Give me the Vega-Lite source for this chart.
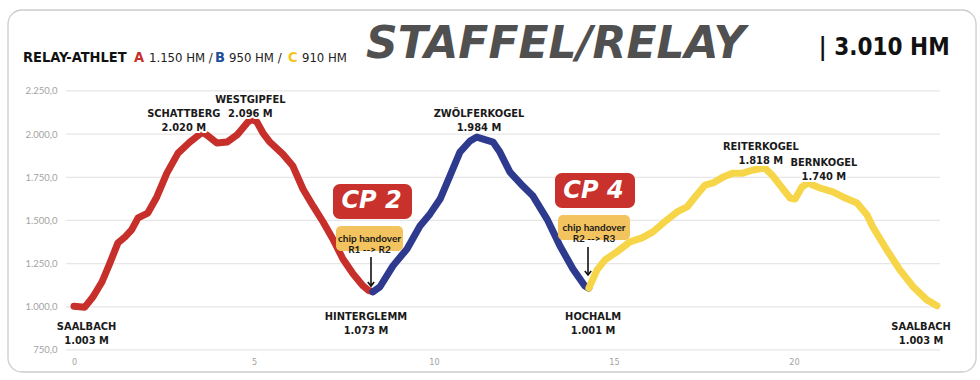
{
  "$schema": "https://vega.github.io/schema/vega-lite/v6.json",
  "width": 883,
  "height": 345,
  "autosize": {"type": "none"},
  "padding": {"left": 62, "top": 10, "right": 35, "bottom": 25},
  "background": "white",
  "config": {
    "view": {"stroke": null},
    "locale": {"number": {"decimal": ",", "thousands": ".", "grouping": [3], "currency": ["", " €"]}}
  },
  "datasets": {
    "grid": [{"elev": 750}, {"elev": 1000}, {"elev": 1250}, {"elev": 1500}, {"elev": 1750}, {"elev": 2000}, {"elev": 2250}],
    "one": [{}],
    "profile": [
      {"seg": "A", "km": 0.0, "elev": 1003}, {"seg": "A", "km": 0.3, "elev": 998}, {"seg": "A", "km": 0.53, "elev": 1058},
      {"seg": "A", "km": 0.78, "elev": 1145}, {"seg": "A", "km": 1.0, "elev": 1254}, {"seg": "A", "km": 1.22, "elev": 1370},
      {"seg": "A", "km": 1.42, "elev": 1405}, {"seg": "A", "km": 1.6, "elev": 1445}, {"seg": "A", "km": 1.78, "elev": 1515},
      {"seg": "A", "km": 2.05, "elev": 1543}, {"seg": "A", "km": 2.3, "elev": 1636}, {"seg": "A", "km": 2.58, "elev": 1774},
      {"seg": "A", "km": 2.89, "elev": 1890}, {"seg": "A", "km": 3.22, "elev": 1954}, {"seg": "A", "km": 3.56, "elev": 2010},
      {"seg": "A", "km": 3.69, "elev": 1995}, {"seg": "A", "km": 3.97, "elev": 1949}, {"seg": "A", "km": 4.25, "elev": 1954},
      {"seg": "A", "km": 4.53, "elev": 1995}, {"seg": "A", "km": 4.83, "elev": 2070}, {"seg": "A", "km": 4.95, "elev": 2085},
      {"seg": "A", "km": 5.08, "elev": 2070}, {"seg": "A", "km": 5.25, "elev": 2006}, {"seg": "A", "km": 5.44, "elev": 1954},
      {"seg": "A", "km": 5.8, "elev": 1884}, {"seg": "A", "km": 6.08, "elev": 1815}, {"seg": "A", "km": 6.36, "elev": 1682},
      {"seg": "A", "km": 6.64, "elev": 1584}, {"seg": "A", "km": 6.92, "elev": 1491}, {"seg": "A", "km": 7.19, "elev": 1393},
      {"seg": "A", "km": 7.47, "elev": 1277}, {"seg": "A", "km": 7.75, "elev": 1191}, {"seg": "A", "km": 8.03, "elev": 1121},
      {"seg": "A", "km": 8.18, "elev": 1095}, {"seg": "A", "km": 8.3, "elev": 1087},
      {"seg": "B", "km": 8.3, "elev": 1087}, {"seg": "B", "km": 8.5, "elev": 1116}, {"seg": "B", "km": 8.86, "elev": 1237},
      {"seg": "B", "km": 9.25, "elev": 1335}, {"seg": "B", "km": 9.61, "elev": 1468}, {"seg": "B", "km": 9.89, "elev": 1538},
      {"seg": "B", "km": 10.17, "elev": 1624}, {"seg": "B", "km": 10.44, "elev": 1757}, {"seg": "B", "km": 10.72, "elev": 1896},
      {"seg": "B", "km": 11.0, "elev": 1960}, {"seg": "B", "km": 11.19, "elev": 1983}, {"seg": "B", "km": 11.64, "elev": 1954},
      {"seg": "B", "km": 11.83, "elev": 1896}, {"seg": "B", "km": 12.11, "elev": 1780}, {"seg": "B", "km": 12.47, "elev": 1699},
      {"seg": "B", "km": 12.75, "elev": 1641}, {"seg": "B", "km": 13.14, "elev": 1508}, {"seg": "B", "km": 13.5, "elev": 1352},
      {"seg": "B", "km": 13.86, "elev": 1219}, {"seg": "B", "km": 14.19, "elev": 1121}, {"seg": "B", "km": 14.3, "elev": 1108},
      {"seg": "C", "km": 14.3, "elev": 1108}, {"seg": "C", "km": 14.53, "elev": 1214}, {"seg": "C", "km": 14.75, "elev": 1272},
      {"seg": "C", "km": 15.08, "elev": 1318}, {"seg": "C", "km": 15.44, "elev": 1376}, {"seg": "C", "km": 15.78, "elev": 1399},
      {"seg": "C", "km": 16.08, "elev": 1434}, {"seg": "C", "km": 16.47, "elev": 1503}, {"seg": "C", "km": 16.75, "elev": 1549},
      {"seg": "C", "km": 17.03, "elev": 1578}, {"seg": "C", "km": 17.25, "elev": 1636}, {"seg": "C", "km": 17.53, "elev": 1705},
      {"seg": "C", "km": 17.75, "elev": 1717}, {"seg": "C", "km": 18.03, "elev": 1751}, {"seg": "C", "km": 18.31, "elev": 1774},
      {"seg": "C", "km": 18.58, "elev": 1774}, {"seg": "C", "km": 18.86, "elev": 1792}, {"seg": "C", "km": 19.19, "elev": 1803},
      {"seg": "C", "km": 19.39, "elev": 1763}, {"seg": "C", "km": 19.61, "elev": 1705}, {"seg": "C", "km": 19.89, "elev": 1630},
      {"seg": "C", "km": 20.03, "elev": 1624}, {"seg": "C", "km": 20.22, "elev": 1694}, {"seg": "C", "km": 20.39, "elev": 1717},
      {"seg": "C", "km": 20.72, "elev": 1688}, {"seg": "C", "km": 21.08, "elev": 1665}, {"seg": "C", "km": 21.36, "elev": 1636},
      {"seg": "C", "km": 21.75, "elev": 1601}, {"seg": "C", "km": 22.03, "elev": 1532}, {"seg": "C", "km": 22.19, "elev": 1462},
      {"seg": "C", "km": 22.58, "elev": 1329}, {"seg": "C", "km": 22.94, "elev": 1214}, {"seg": "C", "km": 23.31, "elev": 1116},
      {"seg": "C", "km": 23.69, "elev": 1040}, {"seg": "C", "km": 23.97, "elev": 1006}
    ],
    "places": [
      {"label": "SCHATTBERG\n2.020 M", "km": 3.05, "elev": 2116},
      {"label": "WESTGIPFEL\n2.096 M", "km": 4.9, "elev": 2195},
      {"label": "ZWÖLFERKOGEL\n1.984 M", "km": 11.25, "elev": 2116},
      {"label": "REITERKOGEL\n1.818 M", "km": 19.08, "elev": 1925},
      {"label": "BERNKOGEL\n1.740 M", "km": 20.83, "elev": 1830},
      {"label": "SAALBACH\n1.003 M", "km": 0.35, "elev": 883},
      {"label": "HINTERGLEMM\n1.073 M", "km": 8.11, "elev": 941},
      {"label": "HOCHALM\n1.001 M", "km": 14.42, "elev": 941},
      {"label": "SAALBACH\n1.003 M", "km": 23.53, "elev": 883}
    ]
  },
  "layer": [
    {
      "data": {"name": "profile"},
      "mark": {"type": "line", "strokeWidth": 7, "strokeCap": "round", "strokeJoin": "round", "opacity": 0},
      "encoding": {
        "x": {"field": "km", "type": "quantitative", "scale": {"domain": [-0.333, 24.194], "nice": false, "zero": false},
          "axis": {"values": [0, 5, 10, 15, 20], "domain": false, "ticks": false, "grid": false, "labelPadding": 2, "labelColor": "#a3a3a3", "labelFont": "DejaVu Sans Condensed", "labelFontSize": 9, "labelFlush": false, "title": null}},
        "y": {"field": "elev", "type": "quantitative", "scale": {"domain": [720.9, 2718.6], "nice": false, "zero": false},
          "axis": {"values": [750, 1000, 1250, 1500, 1750, 2000, 2250], "format": ",.1f", "domain": false, "ticks": false, "grid": false, "labelPadding": 5, "labelColor": "#a3a3a3", "labelFont": "Lato", "labelFontSize": 9.5, "title": null}}
      }
    },
    {
      "data": {"name": "one"},
      "mark": {"type": "rect", "fill": null, "stroke": "#cccccc", "strokeWidth": 1.3, "cornerRadius": 14},
      "encoding": {
        "x": {"datum": -1.833, "type": "quantitative"},
        "x2": {"datum": 25.056},
        "y": {"datum": 2718.6, "type": "quantitative"},
        "y2": {"datum": 622.5}
      }
    },
    {
      "data": {"name": "grid"},
      "mark": {"type": "rule", "color": "#e6e6e6", "strokeWidth": 1.2},
      "encoding": {
        "y": {"field": "elev", "type": "quantitative"},
        "x": {"datum": -0.22, "type": "quantitative"},
        "x2": {"datum": 24.05}
      }
    },
    {
      "data": {"name": "profile"},
      "mark": {"type": "line", "strokeWidth": 7, "strokeCap": "round", "strokeJoin": "round"},
      "encoding": {
        "x": {"field": "km", "type": "quantitative"},
        "y": {"field": "elev", "type": "quantitative"},
        "color": {"field": "seg", "type": "nominal", "scale": {"domain": ["A", "B", "C"], "range": ["#c62f2a", "#2d3a8e", "#f7d548"]}, "legend": null}
      }
    },
    {
      "data": {"name": "places"},
      "mark": {"type": "text", "lineBreak": "\n", "font": "DejaVu Sans Condensed", "fontWeight": "bold", "fontSize": 11, "lineHeight": 14, "align": "center", "baseline": "middle", "stroke": "white", "strokeWidth": 4, "strokeJoin": "round", "fill": "white"},
      "encoding": {
        "x": {"field": "km", "type": "quantitative"},
        "y": {"field": "elev", "type": "quantitative"},
        "text": {"field": "label", "type": "nominal"}
      }
    },
    {
      "data": {"name": "places"},
      "mark": {"type": "text", "lineBreak": "\n", "font": "DejaVu Sans Condensed", "fontWeight": "bold", "fontSize": 11, "lineHeight": 14, "align": "center", "baseline": "middle", "color": "#1a1a1a"},
      "encoding": {
        "x": {"field": "km", "type": "quantitative"},
        "y": {"field": "elev", "type": "quantitative"},
        "text": {"field": "label", "type": "nominal"}
      }
    },
    {
      "data": {"name": "one"},
      "mark": {"type": "rect", "color": "#c8312c", "cornerRadius": 7},
      "encoding": {"x": {"datum": 7.194, "type": "quantitative"}, "x2": {"datum": 9.389}, "y": {"datum": 1711, "type": "quantitative"}, "y2": {"datum": 1508}}
    },
    {
      "data": {"name": "one"},
      "mark": {"type": "rect", "color": "#f2c35e", "cornerRadius": 5},
      "encoding": {"x": {"datum": 7.278, "type": "quantitative"}, "x2": {"datum": 9.139}, "y": {"datum": 1468, "type": "quantitative"}, "y2": {"datum": 1323}}
    },
    {
      "data": {"name": "one"},
      "mark": {"type": "rect", "color": "#c8312c", "cornerRadius": 7},
      "encoding": {"x": {"datum": 13.361, "type": "quantitative"}, "x2": {"datum": 15.583}, "y": {"datum": 1775, "type": "quantitative"}, "y2": {"datum": 1572}}
    },
    {
      "data": {"name": "one"},
      "mark": {"type": "rect", "color": "#f2c35e", "cornerRadius": 5},
      "encoding": {"x": {"datum": 13.444, "type": "quantitative"}, "x2": {"datum": 15.444}, "y": {"datum": 1532, "type": "quantitative"}, "y2": {"datum": 1387}}
    },
    {
      "data": {"name": "one"},
      "mark": {"type": "text", "font": "DejaVu Sans", "fontWeight": "bold", "fontStyle": "italic", "fontSize": 24, "color": "white", "align": "center", "baseline": "middle"},
      "encoding": {"x": {"datum": 8.264, "type": "quantitative"}, "y": {"datum": 1610, "type": "quantitative"}, "text": {"value": "CP 2"}}
    },
    {
      "data": {"name": "one"},
      "mark": {"type": "text", "font": "DejaVu Sans", "fontWeight": "bold", "fontStyle": "italic", "fontSize": 24, "color": "white", "align": "center", "baseline": "middle"},
      "encoding": {"x": {"datum": 14.43, "type": "quantitative"}, "y": {"datum": 1672, "type": "quantitative"}, "text": {"value": "CP 4"}}
    },
    {
      "data": {"name": "one"},
      "mark": {"type": "text", "font": "Lato", "fontWeight": "bold", "fontSize": 10, "lineHeight": 11.5, "lineBreak": "\n", "color": "#1a1a1a", "align": "center", "baseline": "middle"},
      "encoding": {"x": {"datum": 8.208, "type": "quantitative"}, "y": {"datum": 1394, "type": "quantitative"}, "text": {"value": "chip handover\nR1 --> R2"}}
    },
    {
      "data": {"name": "one"},
      "mark": {"type": "text", "font": "Lato", "fontWeight": "bold", "fontSize": 10, "lineHeight": 11.5, "lineBreak": "\n", "color": "#1a1a1a", "align": "center", "baseline": "middle"},
      "encoding": {"x": {"datum": 14.444, "type": "quantitative"}, "y": {"datum": 1458, "type": "quantitative"}, "text": {"value": "chip handover\nR2 --> R3"}}
    },
    {
      "data": {"name": "one"},
      "mark": {"type": "rule", "color": "#111111", "strokeWidth": 1.6},
      "encoding": {"x": {"datum": 8.25, "type": "quantitative"}, "y": {"datum": 1288, "type": "quantitative"}, "y2": {"datum": 1122}}
    },
    {
      "data": {"name": "one"},
      "mark": {"type": "point", "shape": "M-1,-1.3L0,0L1,-1.3", "filled": false, "color": "#111111", "strokeWidth": 1.6, "size": 40, "opacity": 1},
      "encoding": {"x": {"datum": 8.25, "type": "quantitative"}, "y": {"datum": 1120, "type": "quantitative"}}
    },
    {
      "data": {"name": "one"},
      "mark": {"type": "rule", "color": "#111111", "strokeWidth": 1.6},
      "encoding": {"x": {"datum": 14.278, "type": "quantitative"}, "y": {"datum": 1346, "type": "quantitative"}, "y2": {"datum": 1186}}
    },
    {
      "data": {"name": "one"},
      "mark": {"type": "point", "shape": "M-1,-1.3L0,0L1,-1.3", "filled": false, "color": "#111111", "strokeWidth": 1.6, "size": 40, "opacity": 1},
      "encoding": {"x": {"datum": 14.278, "type": "quantitative"}, "y": {"datum": 1184, "type": "quantitative"}}
    },
    {
      "data": {"name": "one"},
      "mark": {"type": "text", "font": "DejaVu Sans Condensed", "fontWeight": "bold", "fontSize": 14.5, "color": "#111111", "align": "left", "baseline": "middle"},
      "encoding": {"x": {"datum": -1.417, "type": "quantitative"}, "y": {"datum": 2441, "type": "quantitative"}, "text": {"value": "RELAY-ATHLET"}}
    },
    {
      "data": {"name": "one"},
      "mark": {"type": "text", "font": "DejaVu Sans Condensed", "fontWeight": "bold", "fontSize": 14.5, "color": "#c62f2a", "align": "left", "baseline": "middle"},
      "encoding": {"x": {"datum": 1.667, "type": "quantitative"}, "y": {"datum": 2441, "type": "quantitative"}, "text": {"value": "A"}}
    },
    {
      "data": {"name": "one"},
      "mark": {"type": "text", "font": "DejaVu Sans Condensed", "fontSize": 13, "color": "#222222", "align": "left", "baseline": "middle"},
      "encoding": {"x": {"datum": 2.083, "type": "quantitative"}, "y": {"datum": 2441, "type": "quantitative"}, "text": {"value": "1.150 HM /"}}
    },
    {
      "data": {"name": "one"},
      "mark": {"type": "text", "font": "DejaVu Sans Condensed", "fontWeight": "bold", "fontSize": 14.5, "color": "#1f4e9c", "align": "left", "baseline": "middle"},
      "encoding": {"x": {"datum": 3.917, "type": "quantitative"}, "y": {"datum": 2441, "type": "quantitative"}, "text": {"value": "B"}}
    },
    {
      "data": {"name": "one"},
      "mark": {"type": "text", "font": "DejaVu Sans Condensed", "fontSize": 13, "color": "#222222", "align": "left", "baseline": "middle"},
      "encoding": {"x": {"datum": 4.306, "type": "quantitative"}, "y": {"datum": 2441, "type": "quantitative"}, "text": {"value": "950 HM /"}}
    },
    {
      "data": {"name": "one"},
      "mark": {"type": "text", "font": "DejaVu Sans Condensed", "fontWeight": "bold", "fontSize": 14.5, "color": "#f5c518", "align": "left", "baseline": "middle"},
      "encoding": {"x": {"datum": 5.944, "type": "quantitative"}, "y": {"datum": 2441, "type": "quantitative"}, "text": {"value": "C"}}
    },
    {
      "data": {"name": "one"},
      "mark": {"type": "text", "font": "DejaVu Sans Condensed", "fontSize": 13, "color": "#222222", "align": "left", "baseline": "middle"},
      "encoding": {"x": {"datum": 6.333, "type": "quantitative"}, "y": {"datum": 2441, "type": "quantitative"}, "text": {"value": "910 HM"}}
    },
    {
      "data": {"name": "one"},
      "mark": {"type": "text", "font": "DejaVu Sans", "fontWeight": "bold", "fontStyle": "italic", "fontSize": 44, "color": "#505050", "align": "left", "baseline": "middle"},
      "encoding": {"x": {"datum": 8.111, "type": "quantitative"}, "y": {"datum": 2516, "type": "quantitative"}, "text": {"value": "STAFFEL/RELAY"}}
    },
    {
      "data": {"name": "one"},
      "mark": {"type": "text", "font": "DejaVu Sans Condensed", "fontWeight": "bold", "fontSize": 24, "color": "#111111", "align": "left", "baseline": "middle"},
      "encoding": {"x": {"datum": 20.69, "type": "quantitative"}, "y": {"datum": 2499, "type": "quantitative"}, "text": {"value": "| 3.010 HM"}}
    }
  ]
}
